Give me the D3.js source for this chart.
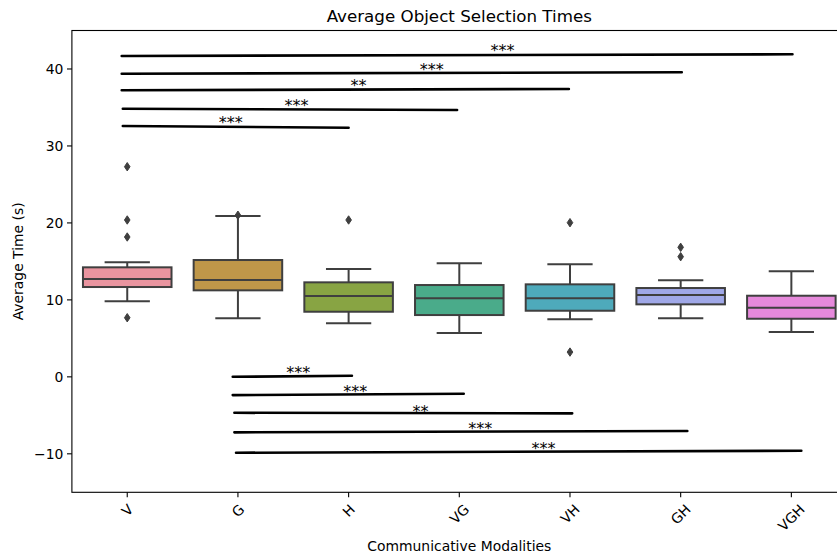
<!DOCTYPE html>
<html lang="en">
<head>
  <meta charset="UTF-8">
  <title>Average Object Selection Times</title>
  <script src="https://cdn.jsdelivr.net/npm/d3@7"></script>
  <style>
    body { margin: 0; background: #fff; }
    svg text { font-family: "DejaVu Sans", sans-serif; }
  </style>
</head>
<body>
  <svg id="chart"></svg>
<script>
  const categories = ['V', 'G', 'H', 'VG', 'VH', 'GH', 'VGH'];
  const colors = ['#e9949f', '#bf9749', '#88a443', '#4aab8a', '#4eaabb', '#a0a8e8', '#e689db'];

  // box stats
  const whiskerLow  = [9.81, 7.6, 6.95, 5.7, 7.47, 7.6, 5.82];
  const q1          = [11.67, 11.24, 8.46, 8.03, 8.59, 9.42, 7.55];
  const median      = [12.71, 12.58, 10.5, 10.2, 10.2, 10.63, 8.98];
  const q3          = [14.23, 15.18, 12.28, 11.93, 12.02, 11.54, 10.54];
  const whiskerHigh = [14.88, 20.9, 14.0, 14.75, 14.62, 12.54, 13.71];
  const outliers    = [[27.3, 20.38, 18.17, 7.68], [21.0], [20.38], [], [20.03, 3.22], [16.83, 15.61], []];

  // significance bars: x in category units, y in data units
  const sigX1   = [-0.04, -0.04, -0.05, -0.05, -0.05, 0.953, 0.953, 0.968, 0.968, 0.983];
  const sigX2   = [2.0, 2.98, 3.99, 5.01, 6.01, 2.03, 3.04, 4.02, 5.06, 6.09];
  const sigY1   = [32.59, 34.84, 37.23, 39.39, 41.69, 0.01, -2.37, -4.67, -7.21, -9.86];
  const sigY2   = [32.37, 34.67, 37.4, 39.57, 41.91, 0.14, -2.2, -4.74, -7.04, -9.6];
  const sigTextX = [0.935, 1.53, 2.09, 2.75, 3.39, 1.546, 2.06, 2.65, 3.19, 3.76];
  const sigTextY = [33.46, 35.75, 38.27, 40.43, 42.9, 1.01, -1.42, -4.02, -6.26, -8.86];
  const sigLabel = ['***', '***', '**', '***', '***', '***', '***', '**', '***', '***'];

  const yTicks = [-10, 0, 10, 20, 30, 40];

  const width = 837, height = 559;
  const plotL = 71.9, plotR = 846.7, plotT = 30.5, plotB = 492.3;

  const svg = d3.select('#chart').attr('width', width).attr('height', height);

  const x = d3.scaleBand().domain(categories).range([plotL, plotR]);
  const bw = x.bandwidth();
  const cx = c => x(c) + bw / 2;
  const xu = d3.scaleLinear().domain([0, 1]).range([cx(categories[0]), cx(categories[1])]);
  const y = d3.scaleLinear().domain([-15, 45]).range([plotB, plotT]);

  const gray = '#3f3f3f';
  const boxW = bw * 0.8;
  const capW = boxW / 2 + 1;

  const boxes = svg.append('g');
  categories.forEach((c, i) => {
    const g = boxes.append('g');
    const m = cx(c);
    g.append('line')
      .attr('x1', m).attr('x2', m)
      .attr('y1', y(whiskerHigh[i])).attr('y2', y(q3[i]))
      .attr('stroke', gray).attr('stroke-width', 2);
    g.append('line')
      .attr('x1', m).attr('x2', m)
      .attr('y1', y(q1[i])).attr('y2', y(whiskerLow[i]))
      .attr('stroke', gray).attr('stroke-width', 2);
    [whiskerHigh[i], whiskerLow[i]].forEach(v => {
      g.append('line')
        .attr('x1', m - capW / 2).attr('x2', m + capW / 2)
        .attr('y1', y(v)).attr('y2', y(v))
        .attr('stroke', gray).attr('stroke-width', 2);
    });
    g.append('rect')
      .attr('x', m - boxW / 2).attr('width', boxW)
      .attr('y', y(q3[i])).attr('height', y(q1[i]) - y(q3[i]))
      .attr('fill', colors[i]).attr('stroke', gray).attr('stroke-width', 2);
    g.append('line')
      .attr('x1', m - boxW / 2).attr('x2', m + boxW / 2)
      .attr('y1', y(median[i])).attr('y2', y(median[i]))
      .attr('stroke', gray).attr('stroke-width', 2);
    outliers[i].forEach(v => {
      const py = y(v);
      g.append('path')
        .attr('d', `M${m},${py - 4.2}L${m + 2.8},${py}L${m},${py + 4.2}L${m - 2.8},${py}Z`)
        .attr('fill', gray).attr('stroke', gray).attr('stroke-width', 1);
    });
  });

  // significance bars
  const sig = svg.append('g');
  sigX1.forEach((_, i) => {
    sig.append('line')
      .attr('x1', xu(sigX1[i])).attr('x2', xu(sigX2[i]))
      .attr('y1', y(sigY1[i])).attr('y2', y(sigY2[i]))
      .attr('stroke', '#000').attr('stroke-width', 2.6)
      .attr('stroke-linecap', 'round');
    sig.append('text')
      .attr('x', xu(sigTextX[i]))
      .attr('y', y(sigTextY[i]) + 9)
      .attr('text-anchor', 'middle')
      .attr('font-size', 16)
      .attr('fill', '#000')
      .text(sigLabel[i]);
  });

  // axes frame
  svg.append('rect')
    .attr('x', plotL).attr('y', plotT)
    .attr('width', plotR - plotL).attr('height', plotB - plotT)
    .attr('fill', 'none').attr('stroke', '#000').attr('stroke-width', 1.1);

  // y axis
  const yAxis = svg.append('g');
  yTicks.forEach(t => {
    yAxis.append('line')
      .attr('x1', plotL - 4.9).attr('x2', plotL)
      .attr('y1', y(t)).attr('y2', y(t))
      .attr('stroke', '#000').attr('stroke-width', 1.1);
    yAxis.append('text')
      .attr('x', plotL - 8.5).attr('y', y(t))
      .attr('dy', '0.35em')
      .attr('text-anchor', 'end')
      .attr('font-size', 13.9)
      .text(String(t).replace('-', '\u2212'));
  });

  // x axis
  const xAxis = svg.append('g');
  categories.forEach(c => {
    const m = cx(c);
    xAxis.append('line')
      .attr('x1', m).attr('x2', m)
      .attr('y1', plotB).attr('y2', plotB + 4.9)
      .attr('stroke', '#000').attr('stroke-width', 1.1);
    const t = xAxis.append('text')
      .attr('font-size', 13.9)
      .attr('text-anchor', 'middle')
      .attr('dominant-baseline', 'central')
      .text(c);
    const w = t.node().getComputedTextLength();
    const h = 13.9 * 1.16;
    const half = (w + h) * Math.SQRT1_2 / 2;
    const cy = plotB + 4.9 + 4.9 + half - 1;
    t.attr('x', m).attr('y', cy).attr('transform', `rotate(-45,${m},${cy})`);
  });

  svg.append('text')
    .attr('x', (plotL + plotR) / 2).attr('y', 551)
    .attr('text-anchor', 'middle').attr('font-size', 13.9)
    .text('Communicative Modalities');

  svg.append('text')
    .attr('transform', `translate(23,${(plotT + plotB) / 2}) rotate(-90)`)
    .attr('text-anchor', 'middle').attr('font-size', 13.9)
    .text('Average Time (s)');

  svg.append('text')
    .attr('x', (plotL + plotR) / 2).attr('y', 22)
    .attr('text-anchor', 'middle').attr('font-size', 16.7)
    .text('Average Object Selection Times');
</script>
</body>
</html>
